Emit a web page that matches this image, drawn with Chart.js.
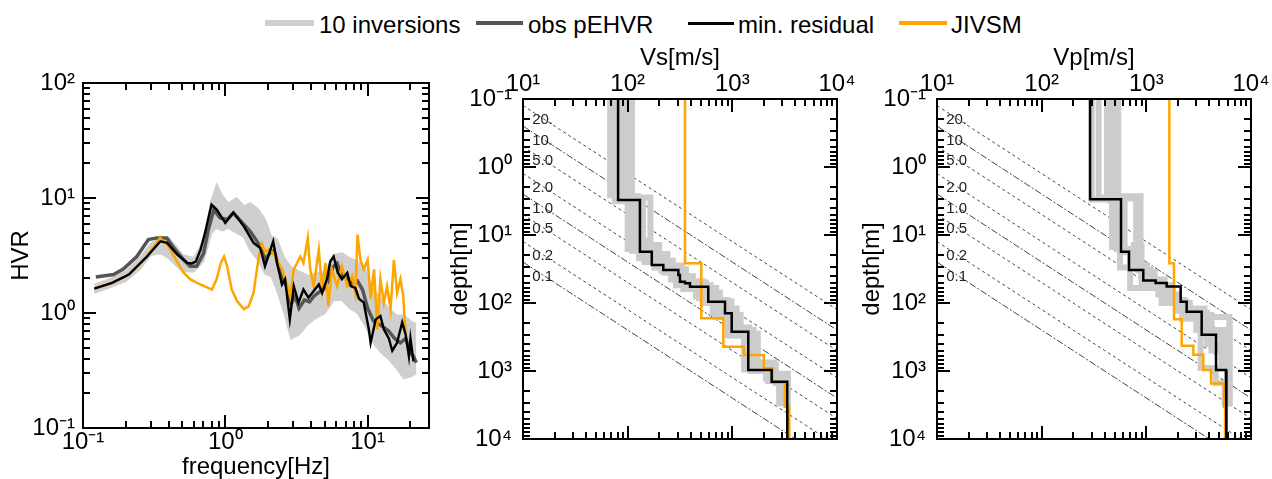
<!DOCTYPE html>
<html>
<head>
<meta charset="utf-8">
<script src="https://cdn.jsdelivr.net/npm/chart.js@4.4.1/dist/chart.umd.min.js"></script>
<style>
  body { margin: 0; width: 1272px; height: 479px; background: #fff; position: relative; overflow: hidden;
         font-family: "Liberation Sans", Arial, Helvetica, sans-serif; }
  canvas { position: absolute; }
  .key { position: absolute; }
  .lbl { position: absolute; top: 13px; font-size: 24px; line-height: 24px; color: #000; white-space: nowrap; }
</style>
</head>
<body>
<div id="legend">
  <div class="key" style="left:265px; top:20px; width:49px; height:6px; background:#cfcfcf;"></div>
  <div class="lbl" style="left:319px;">10 inversions</div>
  <div class="key" style="left:476px; top:21px; width:47px; height:4px; background:#555;"></div>
  <div class="lbl" style="left:528px;">obs pEHVR</div>
  <div class="key" style="left:688px; top:22px; width:46px; height:3px; background:#000;"></div>
  <div class="lbl" style="left:738px;">min. residual</div>
  <div class="key" style="left:899px; top:21px; width:48px; height:4px; background:#ffa500;"></div>
  <div class="lbl" style="left:951px;">JIVSM</div>
</div>
<canvas id="hvrChart" width="440" height="419" style="left:0; top:60px;"></canvas>
<canvas id="vsChart" width="420" height="449" style="left:440px; top:30px;"></canvas>
<canvas id="vpChart" width="412" height="449" style="left:860px; top:30px;"></canvas>
<script>
// ---- HVR spectra ----
const minFreq = [0.12, 0.16, 0.21, 0.28, 0.35, 0.39, 0.46, 0.54, 0.58, 0.62, 0.67, 0.72, 0.8, 0.87, 1.0, 1.14, 1.35, 1.58, 1.76, 1.9, 2.17, 2.31, 2.5, 2.63, 2.84, 3.03, 3.27, 3.54, 3.84, 4.18, 4.54, 4.79, 5.18, 5.47, 5.77, 6.17, 6.6, 7.2, 7.6, 8.2, 8.7, 9.4, 10.2, 10.5, 11.4, 12.3, 13.0, 14.1, 14.9, 16.1, 17.5, 18.5, 19.5, 20, 21];
const minHvr  = [1.63, 1.83, 2.16, 3.08, 4.2, 4.07, 3.22, 2.73, 2.7, 2.8, 3.56, 4.97, 8.75, 7.93, 6.07, 7.5, 5.67, 4.07, 3.68, 2.55, 4.2, 2.73, 1.77, 1.97, 0.88, 1.71, 1.23, 1.6, 1.36, 1.55, 1.77, 1.5, 1.97, 2.82, 3.1, 2.24, 1.97, 2.24, 1.71, 1.65, 1.33, 1.23, 0.72, 0.55, 0.88, 0.94, 0.72, 0.6, 0.47, 0.55, 0.83, 0.65, 0.42, 0.6, 0.38];

const obsFreq = [0.123, 0.164, 0.192, 0.239, 0.288, 0.33, 0.388, 0.433, 0.51, 0.566, 0.63, 0.703, 0.76, 0.83, 0.92, 1.03, 1.14, 1.35, 1.5, 1.67, 1.8, 1.9, 2.05, 2.2, 2.35, 2.5, 2.7, 2.9, 3.1, 3.3, 3.6, 3.9, 4.2, 4.5, 4.9, 5.3, 5.7, 6.1, 6.6, 7.2, 7.8, 8.5, 9.2, 10, 11, 12, 13, 14, 15.5, 17, 18.5, 20, 21, 22];
const obsHvr  = [2.06, 2.16, 2.41, 3.1, 4.35, 4.5, 4.5, 3.7, 2.9, 2.55, 2.55, 3.3, 5.3, 7.9, 6.7, 6.5, 7.4, 5.9, 5.1, 4.2, 3.6, 2.9, 3.3, 3.5, 2.6, 2.0, 1.7, 1.2, 1.4, 1.1, 1.3, 1.25, 1.4, 1.5, 1.6, 1.9, 2.5, 2.7, 2.1, 2.0, 1.8, 1.9, 1.6, 1.1, 0.85, 0.8, 0.75, 0.7, 0.6, 0.55, 0.6, 0.45, 0.42, 0.37];

const jivFreq = [0.12, 0.16, 0.21, 0.28, 0.348, 0.4, 0.457, 0.51, 0.566, 0.667, 0.805, 0.87, 0.93, 0.98, 1.03, 1.11, 1.21, 1.35, 1.46, 1.58, 1.66, 1.72, 1.81, 1.9, 2.07, 2.3, 2.5, 2.7, 2.86, 3.03, 3.2, 3.37, 3.54, 3.8, 3.95, 4.18, 4.54, 4.79, 5.05, 5.3, 5.6, 6.1, 6.6, 7.2, 7.8, 8.2, 8.5, 8.9, 9.4, 10.0, 10.5, 11.1, 11.7, 12.3, 13, 13.7, 14.5, 15.3, 16.1, 17, 17.8, 18.2, 18.5];
const jivHvr  = [1.63, 1.83, 2.16, 3.08, 4.5, 3.8, 2.8, 2.24, 1.97, 1.77, 1.6, 1.97, 2.73, 3.1, 2.55, 1.6, 1.27, 1.08, 1.14, 1.5, 2.3, 3.1, 4.0, 3.4, 3.6, 2.9, 2.4, 1.82, 1.4, 2.4, 2.73, 3.1, 2.73, 4.5, 2.4, 1.71, 3.56, 1.6, 2.73, 1.14, 2.4, 1.71, 2.55, 1.71, 2.1, 1.5, 4.8, 2.9, 2.4, 2.9, 1.33, 2.4, 0.72, 1.97, 1.23, 1.71, 1.08, 2.9, 1.5, 1.97, 1.4, 0.88, 0.68];

// spread of the 10 inverted models
const bandFreq  = [0.12, 0.15, 0.2, 0.25, 0.3, 0.35, 0.4, 0.45, 0.5, 0.6, 0.7, 0.8, 0.87, 0.95, 1.05, 1.2, 1.35, 1.5, 1.7, 1.9, 2.1, 2.3, 2.6, 2.9, 3.3, 3.8, 4.3, 5, 5.8, 6.6, 7.5, 8.5, 9.5, 11, 12.5, 14, 16, 18, 20, 22];
const bandUpper = [1.75, 1.95, 2.3, 3.0, 4.0, 4.6, 4.5, 3.8, 3.2, 3.0, 4.2, 9.5, 13.0, 10.5, 9.0, 10.0, 8.5, 9.0, 8.0, 6.5, 4.6, 4.4, 3.0, 2.5, 2.3, 2.1, 2.2, 2.3, 3.2, 3.3, 3.0, 2.8, 2.5, 1.6, 1.3, 1.1, 0.95, 0.95, 0.85, 0.8];
const bandLower = [1.5, 1.65, 1.9, 2.4, 3.2, 3.3, 3.0, 2.6, 2.3, 2.3, 2.8, 5.0, 5.5, 5.2, 5.5, 5.0, 4.6, 3.5, 2.9, 2.2, 2.1, 1.6, 1.0, 0.6, 0.65, 0.8, 0.9, 1.0, 1.3, 1.3, 1.1, 1.0, 0.8, 0.55, 0.45, 0.4, 0.33, 0.27, 0.28, 0.3];

// ---- velocity profiles: layer velocity and layer bottom depth ----
const vsMinVel = [81, 131, 170, 219, 305, 316, 353, 394, 589, 851, 986, 1420, 2375, 3350];
const vsMinBot = [3.06, 17.6, 27.6, 32.7, 38.8, 48.6, 51.3, 57.5, 95.7, 141.6, 264, 966, 1436, 10000];
const vsJivVel = [353, 505, 820, 1290, 2000, 2415, 3170, 3500];
const vsJivBot = [26.1, 168, 440, 582, 912, 1486, 3350, 10000];
const vsInvVel = [
  [68, 100, 128, 180, 260, 340, 520, 700, 900, 1300, 2100, 2800],
  [110, 165, 200, 270, 360, 520, 700, 980, 1200, 1600, 2500, 3400],
  [100, 115, 150, 240, 330, 420, 620, 900, 1000, 1450, 2400, 3200],
  [75, 140, 190, 230, 310, 560, 760, 1100, 1750, 2600, 3400],
  [88, 125, 160, 210, 300, 450, 650, 950, 1300, 2200, 3000],
  [95, 110, 145, 220, 290, 480, 680, 1050, 1500, 2500, 3300]
];
const vsInvBot = [
  [2.6, 16, 22, 30, 45, 62, 100, 160, 300, 900, 1300, 3300],
  [2.8, 14, 24, 32, 48, 60, 95, 150, 250, 750, 1100, 3300],
  [2.9, 12, 19, 28, 40, 55, 90, 130, 230, 850, 1250, 3000],
  [3.2, 16, 26, 36, 50, 70, 120, 280, 800, 1500, 3300],
  [2.7, 15, 23, 33, 52, 80, 140, 260, 950, 1400, 3300],
  [3.0, 17, 25, 35, 55, 85, 150, 300, 1000, 1400, 3200]
];

const vpMinVel = [290, 573, 683, 935, 1228, 1564, 2128, 2428, 3378, 4634, 5770, 5850];
const vpMinBot = [2.98, 17.6, 32.7, 46.6, 51, 57, 95.6, 134, 293, 966, 1436, 10000];
const vpJivVel = [1660, 1838, 2177, 2812, 3501, 4150, 5520, 5650];
const vpJivBot = [26.1, 173, 427, 578, 966, 1527, 3350, 10000];
const vpInvVel = [
  [300, 470, 560, 700, 1400, 2200, 3300, 4600, 5600],
  [540, 880, 900, 1200, 1800, 2600, 6200, 6300],
  [500, 560, 820, 1100, 1700, 2400, 4200, 6000],
  [420, 800, 760, 1000, 1500, 2000, 3600, 5200, 6100],
  [350, 520, 700, 900, 1300, 2000, 3000, 5600, 6000],
  [450, 620, 850, 1100, 1600, 2300, 3800, 5900]
];
const vpInvBot = [
  [3.0, 15, 30, 60, 100, 170, 900, 1500, 3300],
  [2.7, 15, 35, 60, 100, 160, 1000, 3300],
  [3.2, 18, 32, 55, 95, 150, 500, 3300],
  [2.9, 14, 28, 45, 80, 120, 300, 900, 3300],
  [2.8, 16, 30, 50, 75, 130, 250, 800, 3300],
  [3.1, 17, 33, 55, 90, 140, 400, 3300]
];

// quarter-wavelength reference lines (depth = V / 4f)
const refFreq = [20, 10, 5, 2, 1, 0.5, 0.2, 0.1];
const refLabels = ['20.', '10.', '5.0', '2.0', '1.0', '0.5', '0.2', '0.1'];
const refVel = [10, 10000];

// axis ranges and tick labels
const hvrXRange = [0.1, 27];
const hvrYRange = [0.1, 100];
const velRange = [10, 10000];
const depthRange = [0.1, 10000];
const hvrXTicks = [0.1, 1, 10];
const hvrXLabels = ['10⁻¹', '10⁰', '10¹'];
const hvrYTicks = [0.1, 1, 10, 100];
const hvrYLabels = ['10⁻¹', '10⁰', '10¹', '10²'];
const velTicks = [10, 100, 1000, 10000];
const velLabels = ['10¹', '10²', '10³', '10⁴'];
const depthTicks = [0.1, 1, 10, 100, 1000, 10000];
const depthLabels = ['10⁻¹', '10⁰', '10¹', '10²', '10³', '10⁴'];

const FONT = '"Liberation Sans", Arial, Helvetica, sans-serif';
Chart.defaults.font.family = FONT;
Chart.defaults.color = '#000';

function toPoints(xs, ys) { return xs.map((x, i) => ({ x: x, y: ys[i] })); }

// staircase from layer velocities and bottoms, starting at the top of the plot
function steps(vel, bot) {
  const pts = [];
  let top = depthRange[0];
  vel.forEach((v, i) => {
    pts.push({ x: v, y: top });
    pts.push({ x: v, y: bot[i] });
    top = bot[i];
  });
  return pts;
}

function logTickValues(min, max) {
  const vals = [];
  for (let e = Math.floor(Math.log10(min)); e <= Math.ceil(Math.log10(max)); e++) {
    for (let m = 1; m < 10; m++) {
      const v = +(m * Math.pow(10, e)).toPrecision(6);
      if (v >= min * 0.9999 && v <= max * 1.0001) vals.push(v);
    }
  }
  return vals;
}
function isDecade(v) { const l = Math.log10(v); return Math.abs(l - Math.round(l)) < 1e-6; }

function tickOpts(majors, labels, pad) {
  return {
    autoSkip: false, maxRotation: 0, minRotation: 0, color: '#000', padding: pad,
    font: { size: 24, lineHeight: 1 },
    callback: function (value) {
      const i = majors.findIndex(m => Math.abs(m - value) / m < 1e-6);
      return i < 0 ? '' : labels[i];
    }
  };
}
function logAxis(range, extra) {
  return Object.assign({
    type: 'logarithmic', min: range[0], max: range[1],
    grid: { display: false, drawTicks: false },
    border: { display: false },
    afterBuildTicks: function (axis) { axis.ticks = logTickValues(range[0], range[1]).map(v => ({ value: v })); }
  }, extra);
}
function sizeY(width) { return function (axis) { axis.width = width; axis.paddingTop = 0; axis.paddingBottom = 0; axis.paddingLeft = 0; axis.paddingRight = 0; }; }
function sizeX(height) { return function (axis) { axis.height = height; axis.paddingTop = 0; axis.paddingBottom = 0; axis.paddingLeft = 0; axis.paddingRight = 0; }; }
function axisTitle(text, top) {
  return { display: true, text: text, font: { size: 24, lineHeight: 1 }, padding: { top: top, bottom: 0 } };
}

// frame plus inward major/minor ticks on all four sides, placed with the chart's scales
function drawFrame(ctx, chart, xRange, yRange) {
  const a = chart.chartArea;
  const sx = chart.scales.x;
  const sy = chart.scales.y;
  ctx.save();
  ctx.fillStyle = '#000';
  logTickValues(xRange[0], xRange[1]).forEach(v => {
    const len = isDecade(v) ? 13 : 7;
    const p = Math.round(sx.getPixelForValue(v));
    ctx.fillRect(p - 1, a.top, 2, len);
    ctx.fillRect(p - 1, a.bottom - len, 2, len);
  });
  logTickValues(yRange[0], yRange[1]).forEach(v => {
    const len = isDecade(v) ? 13 : 7;
    const p = Math.round(sy.getPixelForValue(v));
    ctx.fillRect(a.left, p - 1, len, 2);
    ctx.fillRect(a.right - len, p - 1, len, 2);
  });
  ctx.fillRect(a.left - 1, a.top - 1, a.right - a.left + 2, 2);
  ctx.fillRect(a.left - 1, a.bottom - 1, a.right - a.left + 2, 2);
  ctx.fillRect(a.left - 1, a.top - 1, 2, a.bottom - a.top + 2);
  ctx.fillRect(a.right - 1, a.top - 1, 2, a.bottom - a.top + 2);
  ctx.restore();
}

// transparent layer over a chart canvas carrying the frame and ticks
function tickLayer(chart, xRange, yRange) {
  const src = chart.canvas;
  const layer = document.createElement('canvas');
  layer.width = src.width;
  layer.height = src.height;
  layer.style.left = src.style.left;
  layer.style.top = src.style.top;
  layer.style.width = src.width + 'px';
  layer.style.height = src.height + 'px';
  layer.style.pointerEvents = 'none';
  document.body.appendChild(layer);
  drawFrame(layer.getContext('2d'), chart, xRange, yRange);
}

// frequency tags next to the reference lines
function refTags() {
  return {
    id: 'refTags',
    afterDatasetsDraw(chart) {
      const ctx = chart.ctx;
      ctx.save();
      ctx.font = '15px ' + FONT;
      ctx.fillStyle = '#222';
      ctx.textAlign = 'left';
      ctx.textBaseline = 'middle';
      refFreq.forEach((f, i) => {
        const v = 12.5;
        const x = chart.scales.x.getPixelForValue(v) - 1;
        const y = chart.scales.y.getPixelForValue(v / (4 * f)) + 8;
        ctx.fillText(refLabels[i], x, y);
      });
      ctx.restore();
    }
  };
}

function line(data, color, width, order, extra) {
  return Object.assign({
    data: data, showLine: true, borderColor: color, borderWidth: width,
    pointRadius: 0, fill: false, tension: 0, order: order
  }, extra || {});
}

// HVR panel
const hvrChart = new Chart(document.getElementById('hvrChart'), {
  type: 'scatter',
  data: {
    datasets: [
      line(toPoints(bandFreq, bandLower), '#cfcfcf', 2, 4),
      line(toPoints(bandFreq, bandUpper), '#cfcfcf', 2, 3, { fill: 0, backgroundColor: '#cfcfcf' }),
      line(toPoints(obsFreq, obsHvr), '#555555', 3.5, 2),
      line(toPoints(jivFreq, jivHvr), '#ffa500', 2.5, 1),
      line(toPoints(minFreq, minHvr), '#000000', 2.4, 0)
    ]
  },
  options: {
    responsive: false, animation: false, events: [],
    plugins: { legend: { display: false }, tooltip: { enabled: false } },
    layout: { padding: { left: 0, right: 11, top: 23, bottom: 0 } },
    scales: {
      x: logAxis(hvrXRange, { position: 'bottom', afterFit: sizeX(51), ticks: tickOpts(hvrXTicks, hvrXLabels, 2),
        title: axisTitle('frequency[Hz]', 0) }),
      y: logAxis(hvrYRange, { position: 'left', afterFit: sizeY(83), ticks: tickOpts(hvrYTicks, hvrYLabels, 8),
        title: axisTitle('HVR', 9) })
    }
  }
});
tickLayer(hvrChart, hvrXRange, hvrYRange);

function depthChart(id, velTitle, minVel, minBot, jivVel, jivBot, invVel, invBot, yWidth, rightPad, yTitlePad) {
  const sets = [];
  sets.push(line(steps(minVel, minBot), '#000000', 2.5, 0));
  sets.push(line(steps(jivVel, jivBot), '#ffa500', 2.5, 1));
  invVel.forEach((v, i) => sets.push(line(steps(v, invBot[i]), '#cccccc', 6, 5)));
  refFreq.forEach(f => {
    const pts = refVel.map(v => ({ x: v, y: v / (4 * f) }));
    const dash = (f === 10 || f === 1 || f === 0.1) ? [7, 2, 2, 2] : [3, 3];
    sets.push(line(pts, '#444444', 1, 10, { borderDash: dash }));
  });
  const chart = new Chart(document.getElementById(id), {
    type: 'scatter',
    data: { datasets: sets },
    options: {
      responsive: false, animation: false, events: [],
      plugins: { legend: { display: false }, tooltip: { enabled: false } },
      layout: { padding: { left: 0, right: rightPad, top: 0, bottom: 40 } },
      scales: {
        x: logAxis(velRange, { position: 'top', afterFit: sizeX(69), ticks: tickOpts(velTicks, velLabels, 3),
          title: axisTitle(velTitle, 16) }),
        y: logAxis(depthRange, { position: 'left', reverse: true, afterFit: sizeY(yWidth),
          ticks: tickOpts(depthTicks, depthLabels, 11), title: axisTitle('depth[m]', yTitlePad) })
      }
    },
    plugins: [refTags()]
  });
  tickLayer(chart, velRange, depthRange);
}

depthChart('vsChart', 'Vs[m/s]', vsMinVel, vsMinBot, vsJivVel, vsJivBot, vsInvVel, vsInvBot, 83, 23, 8);
depthChart('vpChart', 'Vp[m/s]', vpMinVel, vpMinBot, vpJivVel, vpJivBot, vpInvVel, vpInvBot, 77, 21, 0);
</script>
</body>
</html>
